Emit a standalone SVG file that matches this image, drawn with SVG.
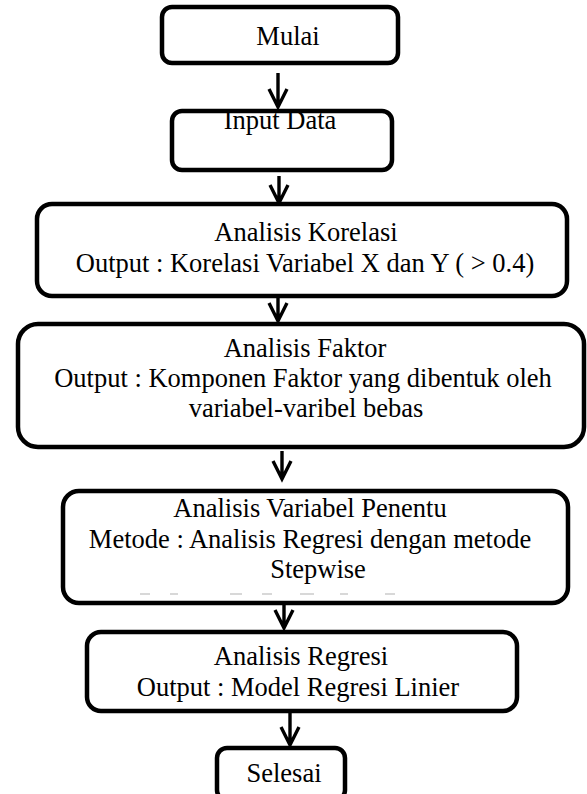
<svg xmlns="http://www.w3.org/2000/svg" width="587" height="794" viewBox="0 0 587 794">
<defs>
<style>
.box{fill:#fff;stroke:#000;stroke-width:4.5}
.t{font-family:"Liberation Serif","Times New Roman",serif;font-size:26.5px;fill:#000;text-anchor:middle}
.c{stroke:#000;stroke-width:3.4;fill:none;stroke-linecap:butt;stroke-linejoin:miter}
</style>
</defs>
<rect width="587" height="794" fill="#fff"/>
<g id="connectors">
<path class="c" d="M278 73 V107 M269 89 L278 107 L287 89"/>
<path class="c" d="M279 176 V203 M270 185 L279 203 L288 185"/>
<path class="c" d="M278 297 V321 M269 303 L278 321 L287 303"/>
<path class="c" d="M282 451 V479 M273 461 L282 479 L291 461"/>
<path class="c" d="M284 605 V628 M275 610 L284 628 L293 610"/>
<path class="c" d="M290 713 V745 M281 727 L290 745 L299 727"/>
</g>
<g id="mulai">
<rect class="box" x="162" y="7" width="236" height="56" rx="10"/>
<text class="t" x="288" y="45">Mulai</text>
</g>
<g id="input">
<rect class="box" x="172" y="111" width="220" height="59" rx="10"/>
<text class="t" x="280" y="129">Input Data</text>
</g>
<g id="korelasi">
<rect class="box" x="37" y="204" width="530" height="92" rx="15"/>
<text class="t" x="306" y="241">Analisis Korelasi</text>
<text class="t" x="305" y="272">Output : Korelasi Variabel X dan Y ( &gt; 0.4)</text>
</g>
<g id="faktor">
<rect class="box" x="18" y="324" width="566" height="123" rx="20"/>
<text class="t" x="305" y="357">Analisis Faktor</text>
<text class="t" x="303" y="387">Output : Komponen Faktor yang dibentuk oleh</text>
<text class="t" x="306" y="417">variabel-varibel bebas</text>
</g>
<g id="penentu">
<rect class="box" x="63" y="491" width="505" height="112" rx="16"/>
<text class="t" x="310" y="517">Analisis Variabel Penentu</text>
<text class="t" x="310" y="548">Metode : Analisis Regresi dengan metode</text>
<text class="t" x="318" y="578">Stepwise</text>
<g fill="#d8d8d8"><rect x="140" y="593" width="10" height="2"/><rect x="170" y="593" width="8" height="2"/><rect x="230" y="593" width="12" height="2"/><rect x="262" y="593" width="10" height="2"/><rect x="300" y="593" width="14" height="2"/><rect x="340" y="593" width="8" height="2"/><rect x="385" y="593" width="10" height="2"/></g>
</g>
<g id="regresi">
<rect class="box" x="87" y="632" width="430" height="79" rx="14"/>
<text class="t" x="301" y="665">Analisis Regresi</text>
<text class="t" x="298" y="696">Output : Model Regresi Linier</text>
</g>
<g id="selesai">
<rect class="box" x="217" y="748" width="128" height="52" rx="10"/>
<text class="t" x="284" y="782">Selesai</text>
</g>
</svg>
